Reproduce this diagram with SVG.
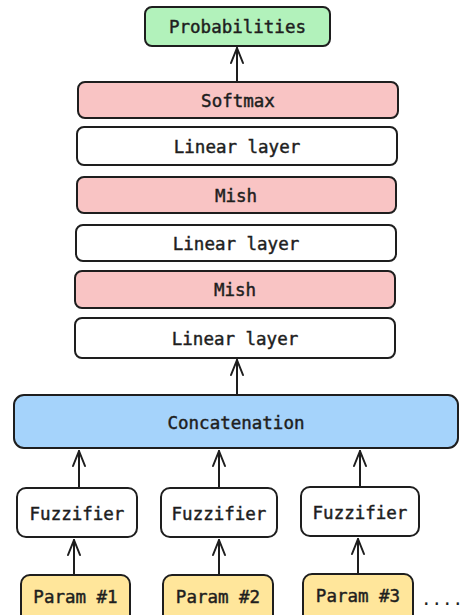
<svg xmlns="http://www.w3.org/2000/svg" width="463" height="615" viewBox="0 0 463 615">
<style>
.box{stroke:#1e1e1e;stroke-width:2}
.w{fill:#ffffff}.g{fill:#b2f2bb}.p{fill:#f9c4c4}.b{fill:#a5d3fb}.y{fill:#ffe69b}
text{font-family:"DejaVu Sans Mono","Liberation Mono",monospace;font-size:17.5px;font-weight:normal;fill:#1e1e1e;stroke:#1e1e1e;stroke-width:0.45px;text-anchor:middle;dominant-baseline:central}
.c line,.c polyline{stroke:#1e1e1e;stroke-width:2;fill:none;stroke-linecap:round;stroke-linejoin:round}
</style>
<rect width="463" height="615" fill="#ffffff"/>
<g id="probabilities"><rect class="box g" x="145" y="7" width="185" height="39" rx="7"/><text x="237.5" y="27">Probabilities</text></g>
<g id="softmax"><rect class="box p" x="78" y="82" width="320" height="36" rx="7"/><text x="238" y="101">Softmax</text></g>
<g id="linear1"><rect class="box w" x="77" y="127" width="320" height="38" rx="7"/><text x="237" y="147">Linear layer</text></g>
<g id="mish1"><rect class="box p" x="77" y="177" width="319" height="36" rx="7"/><text x="236" y="195.5">Mish</text></g>
<g id="linear2"><rect class="box w" x="76" y="225" width="320" height="36" rx="7"/><text x="236" y="243.5">Linear layer</text></g>
<g id="mish2"><rect class="box p" x="75" y="271" width="320" height="37" rx="7"/><text x="235" y="290">Mish</text></g>
<g id="linear3"><rect class="box w" x="75" y="318" width="320" height="40" rx="7"/><text x="235" y="339">Linear layer</text></g>
<g id="concatenation"><rect class="box b" x="14" y="395" width="444" height="53" rx="10"/><text x="236" y="423">Concatenation</text></g>
<g id="fuzzifier1"><rect class="box w" x="17" y="488" width="120" height="49" rx="9"/><text x="77" y="514">Fuzzifier</text></g>
<g id="fuzzifier2"><rect class="box w" x="161" y="488" width="116" height="49" rx="9"/><text x="219" y="514">Fuzzifier</text></g>
<g id="fuzzifier3"><rect class="box w" x="301" y="487" width="118" height="49" rx="9"/><text x="360" y="513">Fuzzifier</text></g>
<g id="param1"><rect class="box y" x="21" y="575" width="109" height="50" rx="9"/><text x="75.5" y="597">Param #1</text></g>
<g id="param2"><rect class="box y" x="163" y="575" width="110" height="50" rx="9"/><text x="218" y="597">Param #2</text></g>
<g id="param3"><rect class="box y" x="303" y="574" width="110" height="50" rx="9"/><text x="358" y="596">Param #3</text></g>
<text x="442" y="599" style="stroke-width:0">....</text>
<g id="connectors" class="c">
<line x1="237" y1="82" x2="237" y2="48"/><polyline points="231,63 237,48 243,63"/>
<line x1="237" y1="395" x2="237" y2="360"/><polyline points="231,375 237,360 243,375"/>
<line x1="79" y1="488" x2="79" y2="451"/><polyline points="73,466 79,451 85,466"/>
<line x1="219" y1="488" x2="219" y2="451"/><polyline points="213,466 219,451 225,466"/>
<line x1="360" y1="487" x2="360" y2="451"/><polyline points="354,466 360,451 366,466"/>
<line x1="74" y1="575" x2="74" y2="540"/><polyline points="68,555 74,540 80,555"/>
<line x1="219" y1="575" x2="219" y2="540"/><polyline points="213,555 219,540 225,555"/>
<line x1="358" y1="574" x2="358" y2="539"/><polyline points="352,554 358,539 364,554"/>
</g>
</svg>
